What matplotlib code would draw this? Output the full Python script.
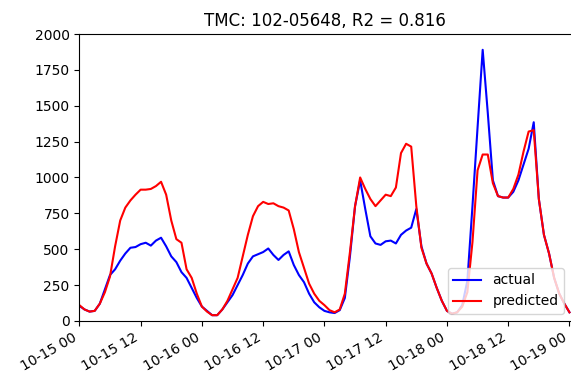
import numpy as np
import pandas as pd
import matplotlib
matplotlib.use("Agg")
import matplotlib.pyplot as plt
import matplotlib.dates as mdates

tmc = "102-05648"
r2 = 0.816
start = pd.Timestamp("2018-10-15 00:00")

# hourly volumes, 10-15 00 .. 10-19 00
actual = [
    105, 80, 65, 70, 120, 220, 320, 360, 420, 470, 510, 515,
    535, 545, 525, 560, 580, 520, 450, 410, 340, 300, 230, 160,
    100, 70, 40, 40, 80, 130, 180, 250, 320, 400, 450, 465,
    480, 505, 460, 425, 460, 485, 390, 320, 270, 190, 130, 95,
    70, 60, 55, 75, 160, 450, 800, 980, 780, 590, 540, 530,
    555, 560, 540, 600, 630, 650, 780, 520, 400, 330, 230, 140,
    70, 50, 60, 110, 280, 800, 1350, 1890, 1450, 980, 870, 860,
    860, 900, 980, 1090, 1200, 1385, 850, 600, 470, 300, 190, 120,
    60,
]
predicted = [
    110, 80, 65, 70, 120, 200, 310, 520, 700, 790, 840, 880,
    915, 915, 920, 940, 970, 880, 700, 570, 545, 360, 300, 190,
    100, 65, 40, 40, 80, 140, 220, 300, 450, 600, 730, 800,
    830, 815, 820, 800, 790, 770, 640, 480, 370, 260, 190, 140,
    110, 75, 60, 80, 190, 480, 800, 1000, 920, 850, 800, 840,
    880, 870, 930, 1170, 1235, 1215, 800, 510, 400, 330, 230, 140,
    70, 50, 60, 100, 200, 550, 1050, 1160, 1160, 960, 870, 860,
    860, 920, 1020, 1180, 1320, 1330, 850, 600, 470, 300, 190, 120,
    60,
]
times = pd.date_range(start, periods=len(actual), freq="h")

fig = plt.figure(figsize=(5.71, 3.78), dpi=100)
ax = fig.add_axes([0.139, 0.151, 0.861, 0.759])
ax.plot(times, actual, color="blue", lw=1.5, label="actual")
ax.plot(times, predicted, color="red", lw=1.5, label="predicted")

ax.set_xlim(times[0], times[0] + pd.Timedelta(hours=96.3))
ax.set_ylim(0, 2000)
ax.set_yticks(np.arange(0, 2001, 250))
ax.xaxis.set_major_locator(mdates.HourLocator(byhour=[0, 12]))
ax.xaxis.set_major_formatter(mdates.DateFormatter("%m-%d %H"))
plt.setp(ax.get_xticklabels(), rotation=30, ha="right")
ax.spines["right"].set_visible(False)
ax.set_title(f"TMC: {tmc}, R2 = {r2}", fontsize=12)
ax.legend(loc="lower right")

fig.savefig("out.png", dpi=100)
